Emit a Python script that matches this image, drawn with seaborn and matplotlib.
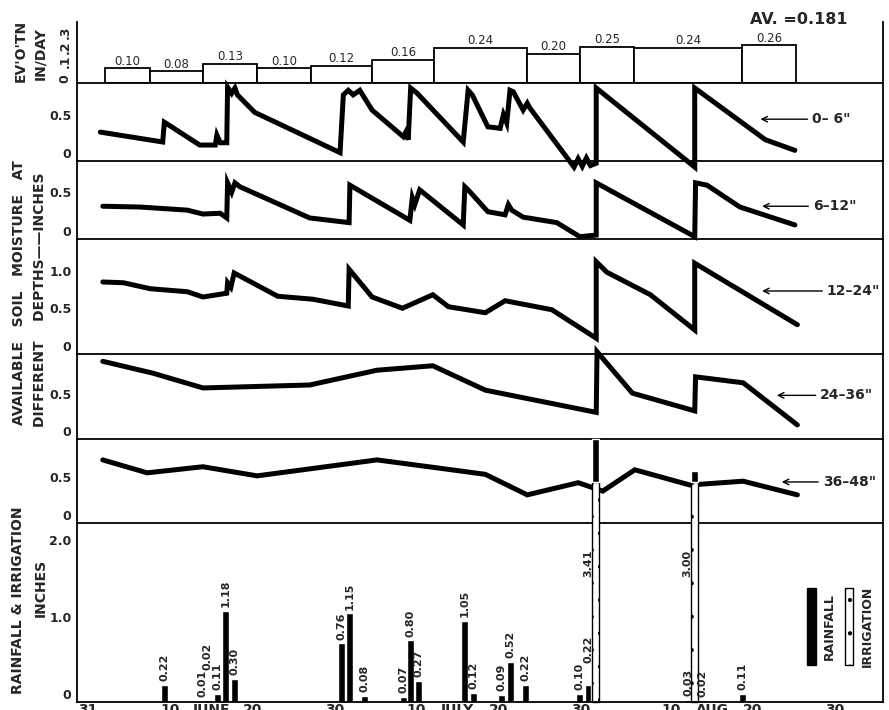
import numpy as np
import matplotlib.pyplot as plt
from matplotlib.patches import Rectangle
import seaborn as sns

# all x values are days counted from 31 May
evap_edges = [2.1, 7.5, 14.0, 20.6, 27.2, 34.6, 42.1, 53.5, 59.9, 66.5, 79.7, 86.2]
evap_rate = [0.10, 0.08, 0.13, 0.10, 0.12, 0.16, 0.24, 0.20, 0.25, 0.24, 0.26]
evap_avg = 0.181

day_0_6 = [1.5, 9.1, 9.3, 9.6, 13.6, 15.5, 15.7, 16.1, 16.9, 17.0, 17.5, 17.9, 18.2, 20.3,
           30.7, 31.1, 31.7, 32.3, 33.1, 34.6, 38.4, 38.7, 39.0, 39.3, 40.1, 45.7, 46.3,
           46.8, 48.7, 50.2, 50.6, 51.0, 51.4, 51.8, 53.0, 53.5, 53.8, 59.2, 59.7, 60.2,
           60.7, 61.2, 61.9, 61.9, 73.9, 73.9, 82.5, 86.1]
sm_0_6 = [0.38, 0.25, 0.51, 0.49, 0.21, 0.21, 0.34, 0.24, 0.24, 0.97, 0.89, 0.96, 0.87, 0.64,
          0.11, 0.87, 0.93, 0.87, 0.93, 0.67, 0.32, 0.38, 0.28, 0.96, 0.89, 0.25, 0.93,
          0.87, 0.45, 0.43, 0.61, 0.50, 0.93, 0.91, 0.67, 0.76, 0.70, -0.08, 0.03, -0.07,
          0.04, -0.06, -0.03, 0.96, -0.08, 0.96, 0.28, 0.14]

day_6_12 = [1.8, 6.3, 12.1, 14.0, 16.1, 16.9, 17.0, 17.5, 17.9, 18.5, 27.0, 31.8, 31.9,
            39.2, 39.5, 39.8, 40.4, 45.7, 45.9, 46.3, 48.7, 50.8, 51.2, 51.6, 53.0, 57.1,
            59.9, 61.9, 61.9, 73.9, 74.0, 75.4, 79.4, 86.1]
sm_6_12 = [0.42, 0.41, 0.37, 0.32, 0.33, 0.27, 0.72, 0.60, 0.72, 0.67, 0.27, 0.21, 0.69,
           0.24, 0.53, 0.44, 0.63, 0.18, 0.67, 0.63, 0.35, 0.31, 0.44, 0.37, 0.28, 0.21,
           0.03, 0.05, 0.72, 0.03, 0.72, 0.69, 0.41, 0.18]

day_12_24 = [1.8, 4.3, 7.6, 12.1, 14.0, 16.9, 17.0, 17.4, 17.8, 23.1, 27.4, 31.7, 31.8,
             34.6, 38.3, 42.0, 43.9, 48.4, 50.8, 56.5, 61.9, 61.9, 63.2, 68.5, 73.9, 73.9, 86.4]
sm_12_24 = [0.96, 0.95, 0.87, 0.83, 0.76, 0.81, 0.95, 0.89, 1.08, 0.77, 0.73, 0.64, 1.13,
            0.76, 0.61, 0.79, 0.63, 0.55, 0.71, 0.59, 0.21, 1.23, 1.09, 0.79, 0.32, 1.21, 0.39]

day_24_36 = [1.8, 7.9, 14.0, 27.0, 35.2, 42.0, 48.4, 61.9, 62.0, 66.3, 73.9, 74.0, 79.8, 86.4]
sm_24_36 = [1.05, 0.89, 0.69, 0.73, 0.93, 0.99, 0.66, 0.36, 1.18, 0.62, 0.38, 0.84, 0.76, 0.19]

day_36_48 = [1.8, 7.2, 14.0, 20.6, 35.2, 42.9, 48.4, 53.5, 59.7, 62.7, 66.6, 73.3, 79.8, 86.4]
sm_36_48 = [0.83, 0.66, 0.74, 0.62, 0.83, 0.72, 0.64, 0.37, 0.53, 0.42, 0.70, 0.50, 0.55, 0.37]

rain_day = [9.3, 13.9, 14.6, 15.8, 16.8, 17.8, 30.9, 31.9, 33.7, 38.4, 39.3, 40.2,
            45.9, 46.9, 50.4, 51.5, 53.3, 59.9, 60.9, 73.1, 74.9, 79.7]
rain_in = [0.22, 0.01, 0.02, 0.11, 1.18, 0.30, 0.76, 1.15, 0.08, 0.07, 0.80, 0.27,
           1.05, 0.12, 0.09, 0.52, 0.22, 0.10, 0.22, 0.03, 0.02, 0.11]
irr_day = [61.8, 73.9]
irr_in = [3.41, 3.00]

tick_days = [0, 10, 20, 30, 40, 50, 60, 71, 81, 91]
tick_text = ['31', '10', '20', '30', '10', '20', '30', '10', '20', '30']
month_days = [15, 45, 76]
month_text = ['JUNE', 'JULY', 'AUG']

sns.set_theme(style='white')
plt.rcParams['font.family'] = ['DejaVu Sans']
plt.rcParams['hatch.linewidth'] = 0.6

W, H = 889, 710
fig = plt.figure(figsize=(W / 100, H / 100), dpi=100)
X0, X1 = 77, 883
rows = [22, 83, 161, 239, 354, 439, 523, 702]
axes = []
for top, bot in zip(rows[:-1], rows[1:]):
    ax = fig.add_axes([X0 / W, 1 - bot / H, (X1 - X0) / W, (bot - top) / H])
    ax.set_facecolor('none')
    ax.set_xlim(-1.34, 96.83)
    for s in ['left', 'right', 'bottom']:
        ax.spines[s].set_color('black')
        ax.spines[s].set_linewidth(1.3)
    ax.spines['top'].set_visible(False)
    ax.tick_params(length=0, labelsize=9, pad=4)
    ax.set_xticks([])
    axes.append(ax)

ax_ev, ax1, ax2, ax3, ax4, ax5, ax_r = axes

# evaporation rate per period
ax_ev.bar(evap_edges[:-1], evap_rate, width=np.diff(evap_edges), align='edge',
          facecolor='white', edgecolor='black', lw=1.3)
for a, b, v in zip(evap_edges[:-1], evap_edges[1:], evap_rate):
    ax_ev.text((a + b) / 2, v + 0.005, f'{v:.2f}', ha='center', va='bottom', fontsize=8.5)
ax_ev.set_ylim(0, 0.42)
ax_ev.set_yticks([0, 0.1, 0.2, 0.3], ['0', '.1', '.2', '.3'])
for lbl in ax_ev.get_yticklabels():
    lbl.set_rotation(90)

# soil moisture layers
layers = [
    (ax1, day_0_6, sm_0_6, 1.026, [0, 0.5], '0– 6"', (81.9, 0.55), 88.2),
    (ax2, day_6_12, sm_6_12, 1.0, [0, 0.5], '6–12"', (82.1, 0.42), 88.3),
    (ax3, day_12_24, sm_12_24, 1.533, [0, 0.5, 1.0], '12–24"', (82.1, 0.84), 90.0),
    (ax4, day_24_36, sm_24_36, 1.149, [0, 0.5], '24–36"', (83.9, 0.59), 89.2),
    (ax5, day_36_48, sm_36_48, 1.105, [0, 0.5], '36–48"', (84.5, 0.54), 89.5),
]
for ax, d, v, ytop, ticks, name, tip, tx in layers:
    sns.lineplot(x=d, y=v, ax=ax, color='black', lw=3.6, sort=False, estimator=None,
                 clip_on=False, solid_joinstyle='miter')
    ax.set_ylim(0, ytop)
    ax.set_yticks(ticks, ['0' if t == 0 else f'{t:.1f}' for t in ticks])
    ax.annotate(name, xy=tip, xytext=(tx, tip[1]), ha='left', va='center',
                fontsize=10, fontweight='bold',
                arrowprops=dict(arrowstyle='->', lw=1.0, color='black', shrinkA=1, shrinkB=0))

# rainfall and irrigation
ax_r.bar(rain_day, rain_in, width=0.85, color='black')
lab_h = 0.33
prev_d, prev_y = -10, -10
for d, v in zip(rain_day, rain_in):
    y = v + 0.05
    if d - prev_d < 1.05 and prev_y - lab_h < y < prev_y + lab_h:
        # neighbouring labels would collide: stack above the previous one
        y = prev_y + lab_h + 0.03
    ax_r.text(d, y, f'{v:.2f}', rotation=90, ha='center', va='bottom',
              fontsize=8, fontweight='bold')
    prev_d, prev_y = d, y
cut = 2.86
ax_r.bar(irr_day, [min(v, cut) for v in irr_in], width=0.85, facecolor='white',
         edgecolor='black', hatch='.', lw=1.0, clip_on=False)
ax_r.bar(irr_day, [v - cut for v in irr_in], bottom=cut, width=0.85, color='black',
         clip_on=False)
for d, v in zip(irr_day, irr_in):
    ax_r.text(d - 0.9, 1.62, f'{v:.2f}', rotation=90, ha='center', va='bottom',
              fontsize=8, fontweight='bold')
ax_r.set_ylim(0, 2.325)
ax_r.set_yticks([0, 1, 2], ['0', '1.0', '2.0'])
ax_r.set_xticks(tick_days, tick_text)
ax_r.set_xticks(month_days, month_text, minor=True)
ax_r.tick_params(axis='x', which='both', length=0, pad=0.5, labelsize=10)

# legend
ax_r.add_patch(Rectangle((0.906, 0.207), 0.011, 0.43, transform=ax_r.transAxes,
                         facecolor='black', edgecolor='black'))
ax_r.add_patch(Rectangle((0.953, 0.207), 0.010, 0.43, transform=ax_r.transAxes,
                         facecolor='white', edgecolor='black', hatch='.', lw=1.0))
ax_r.text(0.934, 0.42, 'RAINFALL', transform=ax_r.transAxes, rotation=90,
          ha='center', va='center', fontsize=9, fontweight='bold')
ax_r.text(0.981, 0.42, 'IRRIGATION', transform=ax_r.transAxes, rotation=90,
          ha='center', va='center', fontsize=9, fontweight='bold')

for ax in axes:
    for lbl in ax.get_yticklabels():
        lbl.set_va('bottom')
        lbl.set_fontweight('bold')
for lbl in ax_r.get_xticklabels(which='both'):
    lbl.set_fontweight('bold')

# side titles
side = [
    ("EV'O'TN", 21, 51), ('IN/DAY', 40, 54),
    ('AVAILABLE   SOIL   MOISTURE   AT', 19, 293),
    ('DIFFERENT    DEPTHS——INCHES', 40, 300),
    ('RAINFALL & IRRIGATION', 18, 600), ('INCHES', 41, 588),
]
for txt, px, py in side:
    fig.text(px / W, 1 - py / H, txt, rotation=90, ha='center', va='center',
             fontsize=10, fontweight='bold')

fig.text(750 / W, 1 - 20 / H, f'AV. ={evap_avg:.3f}', ha='left', va='center',
         fontsize=11.5, fontweight='bold')

fig.savefig('out.png', dpi=100)
